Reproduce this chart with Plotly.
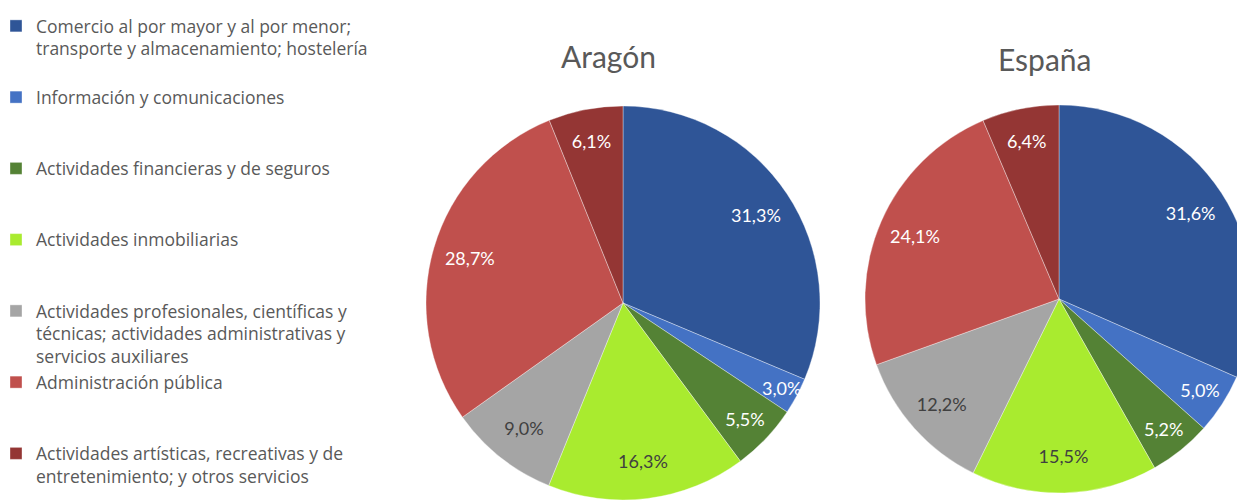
import plotly.graph_objects as go

categories = [
    "Comercio al por mayor y al por menor;<br>transporte y almacenamiento; hostelería",
    "Información y comunicaciones",
    "Actividades financieras y de seguros",
    "Actividades inmobiliarias",
    "Actividades profesionales, científicas y<br>técnicas; actividades administrativas y<br>servicios auxiliares",
    "Administración pública",
    "Actividades artísticas, recreativas y de<br>entretenimiento; y otros servicios",
]
aragon_values = [31.3, 3.0, 5.5, 16.3, 9.0, 28.7, 6.1]
espana_values = [31.6, 5.0, 5.2, 15.5, 12.2, 24.1, 6.4]
titles = ["Aragón", "España"]

colors = ["#2F5597", "#4472C4", "#548235", "#A9EB2F", "#A5A5A5", "#C0504D", "#943634"]
text_colors = ["#FFFFFF", "#FFFFFF", "#FFFFFF", "#404040", "#404040", "#FFFFFF", "#FFFFFF"]

FONT = "Lato, 'Open Sans', sans-serif"
LEG_FONT = "'Open Sans', Lato, sans-serif"


def pad(lbl, n=3):
    k = lbl.count("<br>") + 1
    return lbl + "<br> " * (n - k)


# equal-height legend slots (the last entry needs no padding)
legend_labels = [pad(c) for c in categories[:-1]] + [categories[-1]]


def fmt(v):
    return f"{v:.1f}".replace(".", ",") + "%"


W, H = 1245, 501

fig = go.Figure()
for name, vals, dom in [
    ("Aragón", aragon_values, dict(x=[418 / W, 812 / W], y=[9 / H, 403 / H])),
    ("España", espana_values, dict(x=[857 / W, 1.0], y=[16 / H, 404 / H])),
]:
    # solid pie
    fig.add_trace(go.Pie(
        labels=legend_labels,
        values=vals,
        name=name,
        text=[fmt(v) for v in vals],
        textinfo="none",
        sort=False,
        direction="clockwise",
        rotation=0,
        marker=dict(colors=colors, line=dict(color="rgba(255,255,255,0.45)", width=0.8)),
        domain=dom,
        hoverinfo="label+text",
    ))
    # transparent ring carrying the data labels (places them toward the rim)
    fig.add_trace(go.Pie(
        labels=legend_labels,
        values=vals,
        name=name,
        text=[fmt(v) for v in vals],
        textinfo="text",
        textposition="inside",
        insidetextorientation="horizontal",
        insidetextfont=dict(family=FONT, size=18, color=text_colors),
        hole=0.62,
        sort=False,
        direction="clockwise",
        rotation=0,
        marker=dict(colors=["rgba(0,0,0,0)"] * len(vals), line=dict(width=0)),
        domain=dom,
        hoverinfo="skip",
        showlegend=False,
    ))

fig.add_annotation(x=600 / W, y=(H - 48) / H, xref="paper", yref="paper",
                   xanchor="center", yanchor="middle",
                   text=titles[0], showarrow=False,
                   font=dict(family=FONT, size=30, color="#595959"))
fig.add_annotation(x=1036 / W, y=(H - 51) / H, xref="paper", yref="paper",
                   xanchor="center", yanchor="middle",
                   text=titles[1], showarrow=False,
                   font=dict(family=FONT, size=30, color="#595959"))

fig.update_layout(
    width=W, height=H,
    margin=dict(l=0, r=0, t=0, b=0, autoexpand=False),
    paper_bgcolor="white",
    plot_bgcolor="white",
    showlegend=True,
    uniformtext=dict(minsize=18, mode="show"),
    legend=dict(
        x=-12 / W, y=1.0, xanchor="left", yanchor="top",
        font=dict(family=LEG_FONT, size=17.5, color="#595959"),
        valign="top",
        itemclick=False,
        tracegroupgap=0,
        bgcolor="rgba(0,0,0,0)",
    ),
)

fig.write_html("out.html")
